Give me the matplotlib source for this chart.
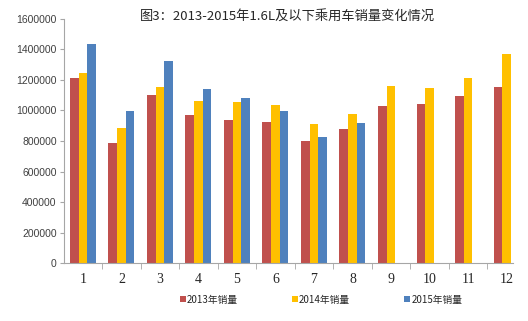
import numpy as np
import matplotlib.pyplot as plt
from matplotlib.ticker import FixedLocator, NullFormatter

months = ["1", "2", "3", "4", "5", "6", "7", "8", "9", "10", "11", "12"]
sales_2013 = [1215000, 785000, 1100000, 972000, 937000, 926000, 797000, 880000, 1030000, 1043000, 1097000, 1152000]
sales_2014 = [1242000, 886000, 1150000, 1064000, 1055000, 1033000, 910000, 978000, 1160000, 1146000, 1213000, 1368000]
sales_2015 = [1433000, 996000, 1322000, 1142000, 1079000, 993000, 826000, 916000]
series_names = ["2013年销量", "2014年销量", "2015年销量"]
yticks = [0, 200000, 400000, 600000, 800000, 1000000, 1200000, 1400000, 1600000]

colors = ["#C0504D", "#FFC000", "#4F81BD"]
cjk = ["Noto Sans CJK SC", "DejaVu Sans"]

fig = plt.figure(figsize=(5.28, 3.21), dpi=100)
ax = fig.add_axes([0.1206, 0.1798, 0.8504, 0.7619])

x = np.arange(len(months))
w = 0.225
ax.bar(x - w, sales_2013, w, color=colors[0], label=series_names[0])
ax.bar(x, sales_2014, w, color=colors[1], label=series_names[1])
ax.bar(x[:len(sales_2015)] + w, sales_2015, w, color=colors[2], label=series_names[2])

ax.set_xlim(-0.5, 11.16)
ax.set_ylim(0, 1600000)

# axis styling
for s in ["top", "right"]:
    ax.spines[s].set_visible(False)
for s in ["left", "bottom"]:
    ax.spines[s].set_color("#A6A6A6")
    ax.spines[s].set_linewidth(0.8)

ax.set_yticks(yticks)
ax.set_yticklabels([str(v) for v in yticks], fontsize=7.5, family="Liberation Sans", color="#404040")
ax.tick_params(axis="y", length=3, color="#A6A6A6", pad=2)

ax.set_xticks(x)
ax.set_xticklabels(months, fontsize=10, family="Liberation Serif", color="#262626")
ax.tick_params(axis="x", which="major", length=0, pad=7)
ax.xaxis.set_minor_locator(FixedLocator(np.arange(0.5, 11, 1.0)))
ax.xaxis.set_minor_formatter(NullFormatter())
ax.tick_params(axis="x", which="minor", length=4, color="#A6A6A6")

fig.text(0.545, 0.95, "图3：2013-2015年1.6L及以下乘用车销量变化情况",
         ha="center", va="center", fontsize=9.5, family=cjk, color="#262626")

leg = fig.legend(loc="center", bbox_to_anchor=(0.608, 0.066), ncol=3, frameon=False,
                 handlelength=0.6, handleheight=0.6, handletextpad=0.1, columnspacing=5.6,
                 prop={"family": cjk, "size": 7})
for t in leg.get_texts():
    t.set_color("#262626")

fig.savefig("out.png", dpi=100)
